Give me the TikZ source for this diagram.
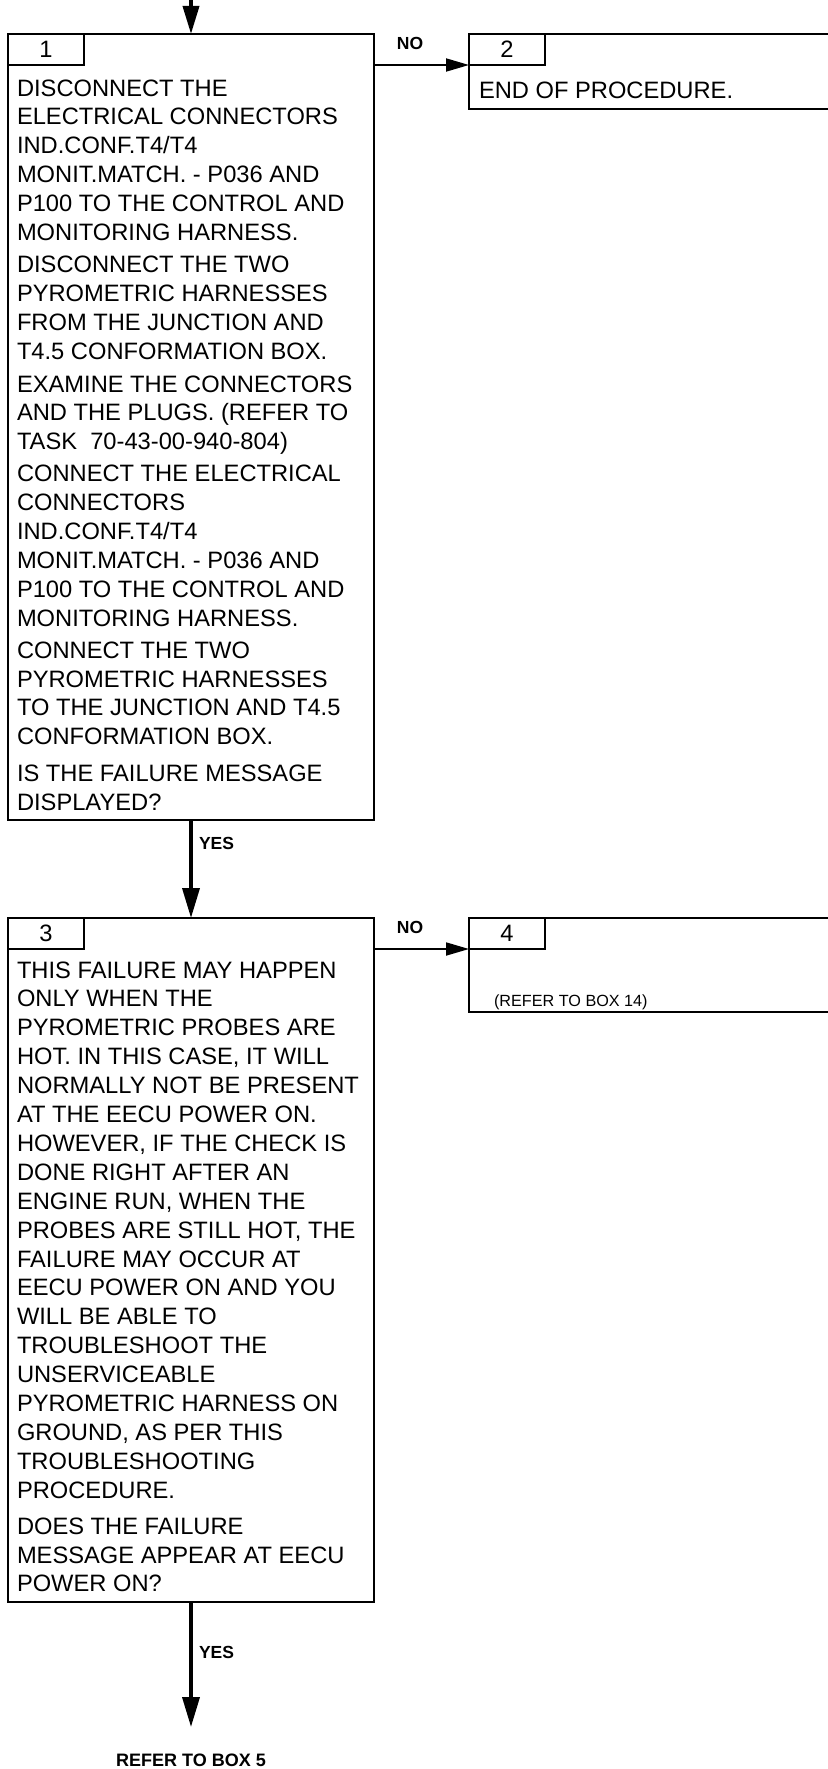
\documentclass[tikz,border=0pt]{standalone}
\usepackage{fontspec}
\setmainfont{Liberation Sans}
\usetikzlibrary{arrows.meta}
\begin{document}
\begin{tikzpicture}[x=1pt,y=-1pt,
  every node/.style={font=\fontsize{23.7}{28.9}\selectfont,inner sep=0pt,outer sep=0pt},
  box/.style={draw,line width=2.6pt,minimum width=366pt},
  tab/.style={draw,line width=2.6pt,minimum width=76pt,minimum height=31pt,anchor=north west},
  txt/.style={align=left,anchor=north west},
  lbl/.style={font=\bfseries\fontsize{17.5}{20}\selectfont},
  yes/.style={line width=3.6pt,-{Triangle[length=30pt,width=17pt]}},
  no/.style={line width=1.8pt,-{Triangle[length=23pt,width=13pt]}}]
\useasboundingbox (0,0) rectangle (827,1769);
% Box 1
\node[box,minimum height=786pt] (box1) at (191,427) {};
\node[tab] (tab1) at (box1.north west) {1};
\node[txt] (txt1) at (17,75.8) {\strut DISCONNECT THE\\
ELECTRICAL CONNECTORS\\
IND.CONF.T4/T4\\
MONIT.MATCH. - P036 AND\\
P100 TO THE CONTROL AND\\
MONITORING HARNESS.\\[3pt]
DISCONNECT THE TWO\\
PYROMETRIC HARNESSES\\
FROM THE JUNCTION AND\\
T4.5 CONFORMATION BOX.\\[4pt]
EXAMINE THE CONNECTORS\\
AND THE PLUGS. (REFER TO\\
TASK\ \ 70-43-00-940-804)\\[3pt]
CONNECT THE ELECTRICAL\\
CONNECTORS\\
IND.CONF.T4/T4\\
MONIT.MATCH. - P036 AND\\
P100 TO THE CONTROL AND\\
MONITORING HARNESS.\\[3pt]
CONNECT THE TWO\\
PYROMETRIC HARNESSES\\
TO THE JUNCTION AND T4.5\\
CONFORMATION BOX.\\[8pt]
IS THE FAILURE MESSAGE\\
DISPLAYED?};
\coordinate (start) at (191,0);
\draw[line width=3.6pt,-{Triangle[length=28pt,width=16pt]}] (start) -- (box1.north);
% Box 2
\node[box,minimum width=371pt,minimum height=75pt,anchor=north west] (box2) at (469,34) {};
\node[tab] (tab2) at (box2.north west) {2};
\node[anchor=base west] (txt2) at (479,99) {END OF PROCEDURE.};
\draw[no] (box1.east |- tab2.south west) -- (tab2.south west);
\node[lbl,anchor=base] (no1) at (410,49) {NO};
% Box 3
\node[box,minimum height=684pt] (box3) at (191,1260) {};
\node[tab] (tab3) at (box3.north west) {3};
\draw[yes] (box1.south) -- (box3.north);
\node[lbl,anchor=base west] (yes1) at (199,849) {YES};
\node[txt] (txt3) at (17,957.8) {\strut THIS FAILURE MAY HAPPEN\\
ONLY WHEN THE\\
PYROMETRIC PROBES ARE\\
HOT. IN THIS CASE, IT WILL\\
NORMALLY NOT BE PRESENT\\
AT THE EECU POWER ON.\\
HOWEVER, IF THE CHECK IS\\
DONE RIGHT AFTER AN\\
ENGINE RUN, WHEN THE\\
PROBES ARE STILL HOT, THE\\
FAILURE MAY OCCUR AT\\
EECU POWER ON AND YOU\\
WILL BE ABLE TO\\
TROUBLESHOOT THE\\
UNSERVICEABLE\\
PYROMETRIC HARNESS ON\\
GROUND, AS PER THIS\\
TROUBLESHOOTING\\
PROCEDURE.\\[7pt]
DOES THE FAILURE\\
MESSAGE APPEAR AT EECU\\
POWER ON?};
% Box 4
\node[box,minimum width=371pt,minimum height=94pt,anchor=north west] (box4) at (469,918) {};
\node[tab] (tab4) at (box4.north west) {4};
\node[anchor=base west,font=\fontsize{16.2}{19}\selectfont] (txt4) at (494,1006) {(REFER TO BOX 14)};
\draw[no] (box3.east |- tab4.south west) -- (tab4.south west);
\node[lbl,anchor=base] (no2) at (410,933) {NO};
% Exit
\coordinate (end5) at (191,1727);
\draw[yes] (box3.south) -- (end5);
\node[lbl,anchor=base west] (yes2) at (199,1658) {YES};
\node[lbl,anchor=base,font=\bfseries\fontsize{18}{20}\selectfont] (refer5) at (191,1766) {REFER TO BOX 5};
\end{tikzpicture}
\end{document}
